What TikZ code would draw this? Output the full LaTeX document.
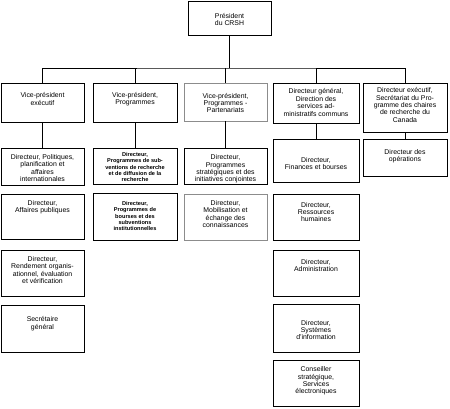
\documentclass[tikz,border=0pt]{standalone}
\usepackage{fontspec}
\setmainfont{Liberation Sans}
\usetikzlibrary{shadows}
\tikzset{
  box/.style={draw=black, fill=white, line width=0.6pt, inner sep=0pt,
    drop shadow={shadow xshift=1.2pt, shadow yshift=-1.2pt, opacity=1, fill=black}},
  greybox/.style={draw=black!45, fill=white, line width=0.6pt, inner sep=0pt},
  txt/.style={align=center, inner sep=0pt, font=\fontsize{6.9}{7.4}\selectfont},
  smalltxt/.style={align=center, inner sep=0pt, font=\bfseries\fontsize{5.6}{6.3}\selectfont},
  conn/.style={line width=0.7pt, draw=black}
}
% #1 style, #2 name, #3 x1, #4 y1, #5 x2, #6 y2, #7 text y, #8 text style, #9 text
\newcommand\obox[9]{%
  \node[#1, minimum width={(#5-#3)*1pt}, minimum height={(#6-#4)*1pt}]
    (#2) at ({(#3+#5)/2},{(#4+#6)/2}) {};
  \node[#8] (#2-t) at ({(#3+#5)/2},#7) {#9};
}
\begin{document}
\begin{tikzpicture}[x=1pt, y=-1pt]
\useasboundingbox (0,0) rectangle (450,408);
% top
\obox{box}{pres}{188}{1}{271}{35}{19.5}{txt}{Président\\du CRSH}
% column 1
\obox{box}{v1}{1}{83}{84}{122}{99}{txt}{Vice-président\\exécutif}
\obox{box}{d11}{1}{148}{84}{185}{168}{txt}{Directeur, Politiques,\\planification et\\affaires\\internationales}
\obox{box}{d12}{1}{194}{84}{239}{207.5}{txt}{Directeur,\\Affaires publiques}
\obox{box}{d13}{1}{250}{84}{296}{270}{txt}{Directeur,\\Rendement organis-\\ationnel, évaluation\\et vérification}
\obox{box}{d14}{1}{305}{84}{352}{323.5}{txt}{Secrétaire\\général}
% column 2
\obox{box}{v2}{93}{83}{177}{122}{99}{txt}{Vice-président,\\Programmes}
\obox{box}{d21}{93}{148}{177}{184}{167}{smalltxt}{Directeur,\\Programmes de sub-\\ventions de recherche\\et de diffusion de la\\recherche}
\obox{box}{d22}{93}{193}{177}{240}{216}{smalltxt}{Directeur,\\Programmes de\\bourses et des\\subventions\\institutionnelles}
% column 3
\obox{greybox}{v3}{184}{83}{267}{121}{103}{txt}{Vice-président,\\Programmes -\\Partenariats}
\obox{box}{d31}{184}{148}{267}{184}{169}{txt}{Directeur,\\Programmes\\stratégiques et des\\initiatives conjointes}
\obox{greybox}{d32}{184}{194}{267}{240}{214}{txt}{Directeur,\\Mobilisation et\\échange des\\connaissances}
% column 4
\obox{box}{v4}{273}{83}{359}{123}{102.5}{txt}{Directeur général,\\Direction des\\services ad-\\ministratifs communs}
\obox{box}{d41}{273}{139}{359}{182}{163.5}{txt}{Directeur,\\Finances et bourses}
\obox{box}{d42}{273}{194}{359}{240}{212}{txt}{Directeur,\\Ressources\\humaines}
\obox{box}{d43}{273}{250}{359}{296}{265.5}{txt}{Directeur,\\Administration}
\obox{box}{d44}{273}{304}{359}{352}{330}{txt}{Directeur,\\Systèmes\\d'information}
\obox{box}{d45}{273}{360}{359}{406}{381}{txt}{Conseiller\\stratégique,\\Services\\électroniques}
% column 5
\obox{box}{v5}{363}{83}{447}{132}{105}{txt}{Directeur exécutif,\\Secrétariat du Pro-\\gramme des chaires\\de recherche du\\Canada}
\obox{box}{d51}{363}{139}{447}{176}{156.5}{txt}{Directeur des\\opérations}
% connectors
\coordinate (bus) at (229.5,68);
\draw[conn] (pres.south) -- (bus);
\draw[conn] (v1.north) |- (bus) -| (v5.north);
\draw[conn] (v2.north) -- (v2.north |- bus);
\draw[conn] (v3.north) -- (v3.north |- bus);
\draw[conn] (v4.north) -- (v4.north |- bus);
\draw[conn] (v1.south) -- (d11.north);
\draw[conn] (v2.south) -- (d21.north);
\draw[conn] (v3.south) -- (d31.north);
\draw[conn] (v4.south) -- (d41.north);
\draw[conn] (v5.south) -- (d51.north);
\end{tikzpicture}
\end{document}
